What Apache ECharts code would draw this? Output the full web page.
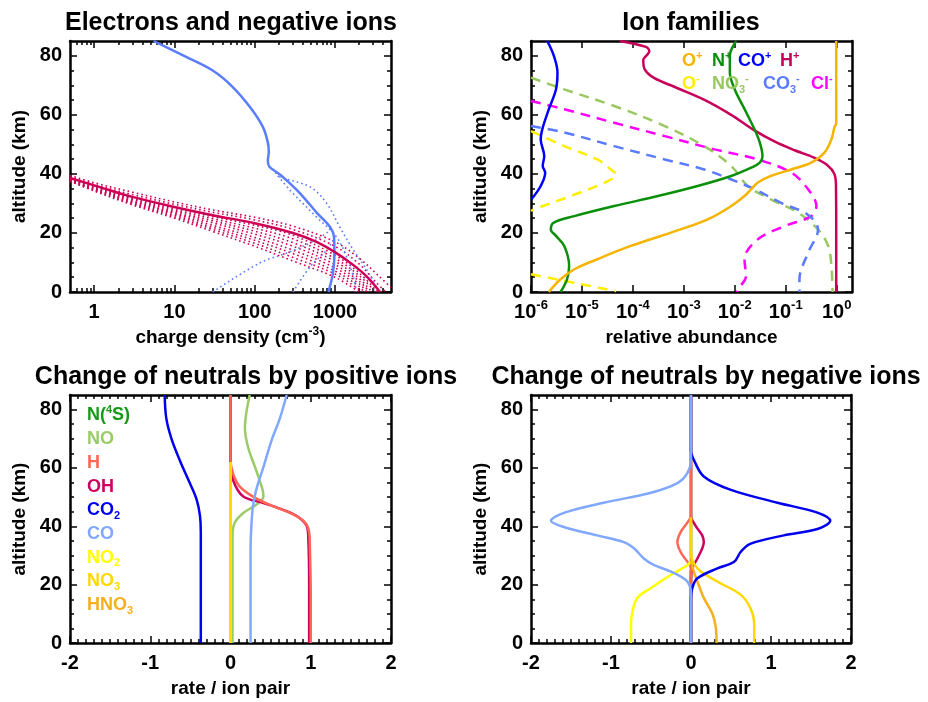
<!DOCTYPE html>
<html>
<head>
<meta charset="utf-8">
<script src="https://cdn.jsdelivr.net/npm/echarts@6/dist/echarts.min.js"></script>
<style>
  html, body { margin: 0; padding: 0; background: #fff; }
  #chart { width: 928px; height: 702px; }
</style>
</head>
<body>
<div id="chart"></div>
<script>
const FONT = '"Liberation Sans", Arial, Helvetica, sans-serif';

// ---------- axis ticks ----------
const altTicks = [0, 20, 40, 60, 80];
const altMinor = [5, 10, 15, 25, 30, 35, 45, 50, 55, 65, 70, 75];
const densTicks = [1, 10, 100, 1000];
const densMinor = [0.6, 0.7, 0.8, 0.9, 2, 3, 4, 5, 6, 7, 8, 9, 20, 30, 40, 50, 60, 70, 80, 90,
                   200, 300, 400, 500, 600, 700, 800, 900, 2000, 3000, 4000];
const abundTicks = [1e-6, 1e-5, 1e-4, 1e-3, 1e-2, 1e-1, 1];
const rateTicks = [-2, -1, 0, 1, 2];
const rateMinor = [];
for (let i = -20; i <= 20; i++) { if (i % 10 !== 0) rateMinor.push(i / 10); }

// ---------- panel 1: charge density [cm^-3, km] ----------
const electrons = [[5.5,85],[14,79.6],[30,75],[53,69.5],[87,62.7],[126,56],[145,51],[150,47.5],
  [146,44.5],[152,42.5],[190,40.5],[224,39],[365,33.5],[600,26.7],[870,22],[975,18.6],[985,13],[945,6.4],[830,0]];
const negIons = [[0.5,38.6],[1.15,35.6],[3,32.2],[10,28.8],[30,26],[100,23.3],[300,20],[590,17],
  [1000,13.5],[1700,9.1],[2500,5.2],[3650,0]];
const negIonsAlt1 = [[0.5,39.5],[1,37],[3,33.8],[10,30.5],[30,27.8],[100,25.3],[300,22.3],[1000,17],[2000,11.5],[3500,5.5],[5000,1.5]];
const negIonsAlt2 = [[0.5,39],[1,36.4],[3,33],[10,29.7],[30,27],[100,24.4],[300,21.2],[1000,15.5],[2000,9.5],[3200,3.5],[4300,0]];
const negIonsAlt3 = [[0.5,38.4],[1,35.8],[3,32],[10,28.4],[30,25.5],[100,22.6],[300,19.2],[1000,12.5],[2000,6.5],[3400,0]];
const negIonsAlt4 = [[0.5,38.3],[1,35.6],[3,31.6],[10,27.9],[30,24.8],[100,21.6],[300,18],[1000,11.4],[2000,5.6],[3200,0]];
const negIonsAlt5 = [[0.5,38.1],[1,35.3],[3,31.3],[10,27.4],[30,24.1],[100,20.6],[300,16.7],[1000,10.4],[2000,4.6],[2900,0]];
const negIonsAlt6 = [[0.5,38],[1,35.1],[3,30.9],[10,26.9],[30,23.4],[100,19.6],[300,15.5],[1000,9.3],[2000,3.7],[2700,0]];
const negIonsAlt7 = [[0.5,37.9],[1,34.9],[3,30.6],[10,26.5],[30,22.6],[100,18.5],[300,14.2],[1000,8.2],[2000,2.8],[2500,0]];
const negIonsAlt8 = [[0.5,37.8],[1,34.7],[3,30.2],[10,26],[30,21.9],[100,17.5],[300,13],[1000,7.1],[2000,1.9],[2300,0]];
const negIonsAlt9 = [[0.5,37.6],[1,34.4],[3,29.9],[10,25.5],[30,21.2],[100,16.5],[300,11.7],[1000,6.1],[2000,0.9],[2150,0]];
const negIonsAlt10 = [[0.5,37.5],[1,34.2],[3,29.5],[10,25],[30,20.5],[100,15.5],[300,10.5],[1000,5],[2000,0]];
const electronsAlt1 = [[190,40.5],[205,39],[490,35.6],[790,30],[1150,22],[1700,14.2],[2500,7.5],[3300,1.7],[3500,0]];
const electronsAlt2 = [[180,40.5],[275,34.5],[590,25.4],[1050,18.6],[1400,11.9],[1700,5],[1850,0]];
const electronsAlt3 = [[30,0],[115,9.8],[250,13.2],[490,16.6],[790,20],[880,21.5]];
const electronsAlt4 = [[300,0],[490,8.5],[790,14.2],[950,17.6]];

// ---------- panel 2: ion families [relative abundance, km] ----------
const ionOp = [[0.98,85],[0.98,57],[0.91,56],[0.79,51.7],[0.575,47.2],[0.316,43.8],[0.129,41.5],[0.051,39.3],
  [0.028,37],[0.021,34.8],[0.0155,32.5],[8.5e-3,29.1],[2.95e-3,24.6],[5.6e-4,20.1],[9.1e-5,15.6],[2e-5,11.1],
  [7.1e-6,7.7],[3.8e-6,4.3],[2.24e-6,0]];
const ionNp = [[1.07e-2,85],[8e-3,80],[8e-3,74.3],[1e-2,68.6],[1.55e-2,62],[2.45e-2,55],[3.1e-2,50.6],[3.5e-2,46],
  [3.1e-2,43.8],[2.1e-2,42.1],[8.5e-3,39.3],[1.86e-3,35.9],[3.1e-4,32.5],[4.3e-5,29.1],[7.1e-6,25.7],[2.8e-6,23.5],
  [2.45e-6,21.2],[3.1e-6,19],[4.5e-6,15.6],[5.6e-6,8.8],[5.1e-6,4.3],[3.8e-6,0]];
const ionCOp = [[2.09e-6,85],[2.82e-6,79.9],[3.31e-6,74.3],[3.09e-6,68.6],[2.24e-6,61.9],[1.66e-6,55],[1.55e-6,51.7],
  [1.82e-6,46],[1.7e-6,42.7],[1.9e-6,40.4],[1.55e-6,35.9],[1.02e-6,31.4]];
const ionHp = [[5.5e-5,85],[1.8e-4,83],[2.1e-4,81.5],[1.6e-4,78.5],[1.7e-4,75.5],[2.6e-4,72.5],[6.5e-4,69.5],
  [2.6e-3,65],[8.5e-3,60],[2.3e-2,55],[6e-2,51],[0.15,48],[0.36,45.5],[0.65,43],[0.9,40],[0.97,36],[0.98,20],[0.98,0]];
const ionOmUpper = [[1e-6,54.5],[4.5e-6,49.4],[2e-5,44.9],[3.7e-5,41.5],[4.7e-5,39.8],[2.75e-5,37],[6e-6,32.5],[1.15e-6,28],[1e-6,27.4]];
const ionOmLower = [[1e-6,6],[4.7e-5,0.3]];
const ionNO3m = [[1e-6,72.6],[4.5e-6,68.6],[4.3e-5,63],[4.2e-4,56.2],[2.5e-3,49.4],[8.5e-3,42.7],[1.8e-2,35.9],
  [5.1e-2,31.4],[0.174,26.9],[0.43,21.2],[0.68,15.6],[0.79,8.8],[0.83,0]];
const ionCO3m = [[1e-6,56.2],[4.5e-6,54],[4.3e-5,49.4],[4.2e-4,44.9],[2.5e-3,41.5],[8.5e-3,38.1],[2.45e-2,34.8],
  [8.1e-2,30.2],[0.234,26.9],[0.37,24],[0.43,21.2],[0.275,13.3],[0.186,4.3],[0.186,0]];
const ionClm = [[1e-6,64.7],[4.5e-6,61.9],[4.3e-5,57.3],[4.2e-4,52.8],[4e-3,48.3],[2.8e-2,44.9],[0.129,40.4],
  [0.275,34.8],[0.4,29.1],[0.316,25.7],[0.095,22.3],[0.028,17.8],[0.0155,11.1],[0.0166,5.4],[0.0115,0.9],[0.011,0]];

// ---------- panel 3: change of neutrals by positive ions [rate/ion pair, km] ----------
const posN4S = [[0,85],[0,0]];
const posNO = [[0.24,85],[0.2,79.4],[0.18,73.8],[0.22,67],[0.32,59.2],[0.4,52.5],[0.41,50.2],[0.32,47.4],
  [0.16,44.6],[0.054,41.3],[0.025,36.8],[0.025,20],[0.025,0]];
const posH = [[0,85],[0,70],[0,63],[0.033,58],[0.116,53.6],[0.28,50.2],[0.53,46.9],[0.78,44.1],[0.93,41.3],
  [0.98,38],[0.99,32],[1,16],[1,0]];
const posOH = [[0,85],[0,70],[0,62.6],[0.033,55.8],[0.16,50.2],[0.41,48],[0.7,45.2],[0.86,42.9],[0.95,40.1],
  [0.97,35.7],[0.98,20],[0.98,0]];
const posCO2 = [[-0.82,85],[-0.8,77],[-0.735,70],[-0.63,62.5],[-0.51,55],[-0.42,49],[-0.38,43.5],[-0.37,38],[-0.37,20],[-0.37,0]];
const posCO = [[0.7,85],[0.615,77],[0.51,69.3],[0.41,60.3],[0.32,52.5],[0.28,47],[0.26,40],[0.25,32],[0.25,16],[0.25,0]];
const posNO2 = [[0,62],[0,0]];
const posNO3 = [[0,62],[0,0]];
const posHNO3 = [[0,62],[0,0]];

// ---------- panel 4: change of neutrals by negative ions [rate/ion pair, km] ----------
const negN4S = [[0,85],[0,0]];
const negNO = [[-0.01,25],[-0.01,0]];
const negH = [[0,85],[0,43.6],[-0.046,41.3],[-0.13,38],[-0.17,34.6],[-0.13,31.2],[-0.046,27.9],[0,25.6],[0,0]];
const negOH = [[0,85],[0,43.6],[0.058,40.2],[0.14,36.9],[0.16,34.6],[0.14,32.4],[0.08,29],[0.017,25.6],[0,22],[0,0]];
const negCO2 = [[0,85],[0,66],[0.037,62.7],[0.16,57.1],[0.49,52.6],[1.08,48.1],[1.58,44.7],[1.74,41.9],[1.58,39.1],
  [1.16,36.9],[0.74,34],[0.62,31.2],[0.54,27.9],[0.33,25.6],[0.08,22.2],[0.017,18.9],[0,14.4],[0,0]];
const negCO = [[0,85],[0,63],[-0.046,58.2],[-0.17,54.8],[-0.5,51.5],[-1.09,48.1],[-1.58,44.7],[-1.75,41.9],
  [-1.58,39.7],[-1.17,36.9],[-0.84,34.6],[-0.71,32.4],[-0.59,29],[-0.46,26.7],[-0.25,24.5],[-0.067,21.7],
  [-0.012,19.4],[0,16.6],[0,0]];
const negNO2 = [[0,28],[-0.046,26.7],[-0.25,23.4],[-0.5,18.9],[-0.67,15.5],[-0.73,11],[-0.75,6.5],[-0.75,0]];
const negNO3 = [[0,43],[0,31],[0.08,25.6],[0.33,21.1],[0.62,16.6],[0.74,12.1],[0.79,6.5],[0.79,0]];
const negHNO3 = [[0,43],[0,31],[0.02,26],[0.08,21.1],[0.16,15.5],[0.27,9.9],[0.31,5.4],[0.32,0]];

// ---------- colours ----------
const C = {
  elec: '#5a7cff', negIon: '#cc0055',
  Op: '#f5b400', Np: '#0a8f0a', COp: '#0000ff', Hp: '#c8005a',
  Om: '#ffee00', NO3m: '#99c860', CO3m: '#5b7bff', Clm: '#ff00ff',
  N4S: '#159a15', NO: '#99cc66', H: '#ff6655', OH: '#cc0060', CO2: '#0000ee', CO: '#80a8ff',
  NO2: '#ffff00', NO3: '#ffd800', HNO3: '#f5b020'
};

// ---------- layout ----------
const grids = [
  { left: 70, top: 41, width: 321, height: 251 },
  { left: 531, top: 41, width: 321, height: 251 },
  { left: 70, top: 395, width: 321, height: 252 },
  { left: 531, top: 395, width: 320, height: 252 }
];

const black = { color: '#000', width: 1.5 };
const frameLine = { show: true, onZero: false, lineStyle: { color: '#000', width: 2.5 } };
const noLine = { show: false, onZero: false };
const labelBase = { color: '#000', fontSize: 20, fontWeight: 'bold', fontFamily: FONT, lineHeight: 26 };
const supStyle = { color: '#000', fontSize: 13, fontWeight: 'bold', fontFamily: FONT, lineHeight: 10, verticalAlign: 'top' };
const nameStyle = { color: '#000', fontSize: 19, fontWeight: 'bold', fontFamily: FONT, lineHeight: 24,
  rich: { sup: { color: '#000', fontSize: 12, fontWeight: 'bold', fontFamily: FONT, lineHeight: 10, verticalAlign: 'top' } } };
const plainNumber = v => String(v);

function buildX(gi, scale, major, minor, name, labelOpts) {
  const base = Object.assign({ gridIndex: gi, splitLine: { show: false }, silent: true }, scale);
  const mk = (pos, ticks, len, withLine, withLabel) => Object.assign({}, base, {
    position: pos,
    axisLine: withLine ? frameLine : noLine,
    axisTick: { show: ticks.length > 0, inside: true, length: len, customValues: ticks, lineStyle: black },
    axisLabel: withLabel
      ? Object.assign({ customValues: major, margin: 7, formatter: plainNumber }, labelBase, labelOpts || {})
      : { show: false },
    name: withLabel ? name : '',
    nameLocation: 'middle', nameGap: 30, nameTextStyle: nameStyle
  });
  return [mk('bottom', major, 7, true, true), mk('bottom', minor, 4, false, false),
          mk('top', major, 7, true, false), mk('top', minor, 4, false, false)];
}
function buildY(gi) {
  const base = { gridIndex: gi, type: 'value', min: 0, max: 85, splitLine: { show: false }, silent: true };
  const mk = (pos, ticks, len, withLine, withLabel) => Object.assign({}, base, {
    position: pos,
    axisLine: withLine ? frameLine : noLine,
    axisTick: { inside: true, length: len, customValues: ticks, lineStyle: black },
    axisLabel: withLabel ? Object.assign({ customValues: altTicks, margin: 8, formatter: plainNumber }, labelBase) : { show: false },
    name: withLabel ? 'altitude (km)' : '',
    nameLocation: 'middle', nameGap: 38, nameTextStyle: nameStyle
  });
  return [mk('left', altTicks, 7, true, true), mk('left', altMinor, 4, false, false),
          mk('right', altTicks, 7, true, false), mk('right', altMinor, 4, false, false)];
}

const xAxes = [].concat(
  buildX(0, { type: 'log', logBase: 10, min: 0.5, max: 5000 }, densTicks, densMinor, 'charge density (cm{sup|-3})'),
  buildX(1, { type: 'log', logBase: 10, min: 1e-6, max: 2 }, abundTicks, [], 'relative abundance', {
    formatter: v => '10{sup|' + Math.round(Math.log10(v)) + '}',
    rich: { sup: supStyle }
  }),
  buildX(2, { type: 'value', min: -2, max: 2 }, rateTicks, rateMinor, 'rate / ion pair'),
  buildX(3, { type: 'value', min: -2, max: 2 }, rateTicks, rateMinor, 'rate / ion pair')
);
const yAxes = [].concat(buildY(0), buildY(1), buildY(2), buildY(3));

function line(gi, data, color, opt) {
  opt = opt || {};
  return {
    type: 'line', xAxisIndex: 4 * gi, yAxisIndex: 4 * gi, data: data,
    showSymbol: false, symbol: 'none', smooth: opt.smooth !== undefined ? opt.smooth : 0.35,
    silent: true, animation: false, z: opt.z || 2,
    lineStyle: { color: color, width: opt.width || 2.5, type: opt.type || 'solid' }
  };
}
const dotRed = { type: [1.6, 3], width: 1.6, z: 1 };
const dotBlue = { type: [1.6, 3], width: 1.6, z: 1 };
const dash = { type: [10, 7], width: 2.5 };

const series = [
  // panel 1
  line(0, negIonsAlt1, C.negIon, dotRed), line(0, negIonsAlt2, C.negIon, dotRed),
  line(0, negIonsAlt3, C.negIon, dotRed), line(0, negIonsAlt4, C.negIon, dotRed),
  line(0, negIonsAlt5, C.negIon, dotRed), line(0, negIonsAlt6, C.negIon, dotRed),
  line(0, negIonsAlt7, C.negIon, dotRed), line(0, negIonsAlt8, C.negIon, dotRed),
  line(0, negIonsAlt9, C.negIon, dotRed), line(0, negIonsAlt10, C.negIon, dotRed),
  line(0, electronsAlt1, C.elec, dotBlue), line(0, electronsAlt2, C.elec, dotBlue),
  line(0, electronsAlt3, C.elec, dotBlue), line(0, electronsAlt4, C.elec, dotBlue),
  line(0, electrons, C.elec, { z: 3 }), line(0, negIons, C.negIon, { z: 3 }),
  // panel 2
  line(1, ionNO3m, C.NO3m, dash), line(1, ionClm, C.Clm, dash), line(1, ionCO3m, C.CO3m, dash),
  line(1, ionOmUpper, C.Om, dash), line(1, ionOmLower, C.Om, dash),
  line(1, ionCOp, C.COp), line(1, ionHp, C.Hp), line(1, ionNp, C.Np), line(1, ionOp, C.Op),
  // panel 3
  line(2, posN4S, C.N4S), line(2, posNO, C.NO), line(2, posOH, C.OH), line(2, posH, C.H),
  line(2, posCO2, C.CO2), line(2, posCO, C.CO),
  line(2, posHNO3, C.HNO3), line(2, posNO2, C.NO2), line(2, posNO3, C.NO3),
  // panel 4
  line(3, negN4S, C.N4S), line(3, negNO, C.NO), line(3, negOH, C.OH), line(3, negH, C.H),
  line(3, negNO2, C.NO2), line(3, negHNO3, C.HNO3), line(3, negNO3, C.NO3),
  line(3, negCO2, C.CO2), line(3, negCO, C.CO)
];

// ---------- titles and in-plot labels ----------
function txt(x, y, text, size, color, align) {
  return {
    type: 'text', x: x, y: y, silent: true, z: 10,
    style: {
      text: text, fill: color, fontSize: size, fontWeight: 'bold', fontFamily: FONT,
      align: align || 'left', verticalAlign: 'middle', lineHeight: size + 4,
      rich: {
        s: { fill: color, fontSize: Math.round(size * 0.62), fontWeight: 'bold', fontFamily: FONT, lineHeight: 10, verticalAlign: 'top' },
        b: { fill: color, fontSize: Math.round(size * 0.62), fontWeight: 'bold', fontFamily: FONT, lineHeight: 10, verticalAlign: 'bottom' }
      }
    }
  };
}
const titles = [
  txt(231, 23, 'Electrons and negative ions', 25, '#000', 'center'),
  txt(691, 23, 'Ion families', 25, '#000', 'center'),
  txt(246, 377, 'Change of neutrals by positive ions', 25, '#000', 'center'),
  txt(706, 377, 'Change of neutrals by negative ions', 25, '#000', 'center')
];
const ionLegend = [
  txt(682, 61, 'O{s|+}', 18, C.Op), txt(712, 61, 'N{s|+}', 18, C.Np),
  txt(738, 61, 'CO{s|+}', 18, C.COp), txt(780, 61, 'H{s|+}', 18, C.Hp),
  txt(682, 84, 'O{s|-}', 18, C.Om), txt(712, 84, 'NO{b|3}{s|-}', 18, C.NO3m),
  txt(763, 84, 'CO{b|3}{s|-}', 18, C.CO3m), txt(811, 84, 'Cl{s|-}', 18, C.Clm)
];
const neutralNames = [
  ['N({s|4}S)', C.N4S], ['NO', C.NO], ['H', C.H], ['OH', C.OH], ['CO{b|2}', C.CO2],
  ['CO', C.CO], ['NO{b|2}', C.NO2], ['NO{b|3}', C.NO3], ['HNO{b|3}', C.HNO3]
];
const neutralLegend = neutralNames.map((d, i) => txt(87, 415.5 + i * 23.7, d[0], 18, d[1]));

const chart = echarts.init(document.getElementById('chart'), null, { renderer: 'canvas' });
chart.setOption({
  backgroundColor: '#fff',
  animation: false,
  grid: grids.map(g => Object.assign({ containLabel: false }, g)),
  xAxis: xAxes,
  yAxis: yAxes,
  series: series,
  graphic: titles.concat(ionLegend, neutralLegend)
});
</script>
</body>
</html>
